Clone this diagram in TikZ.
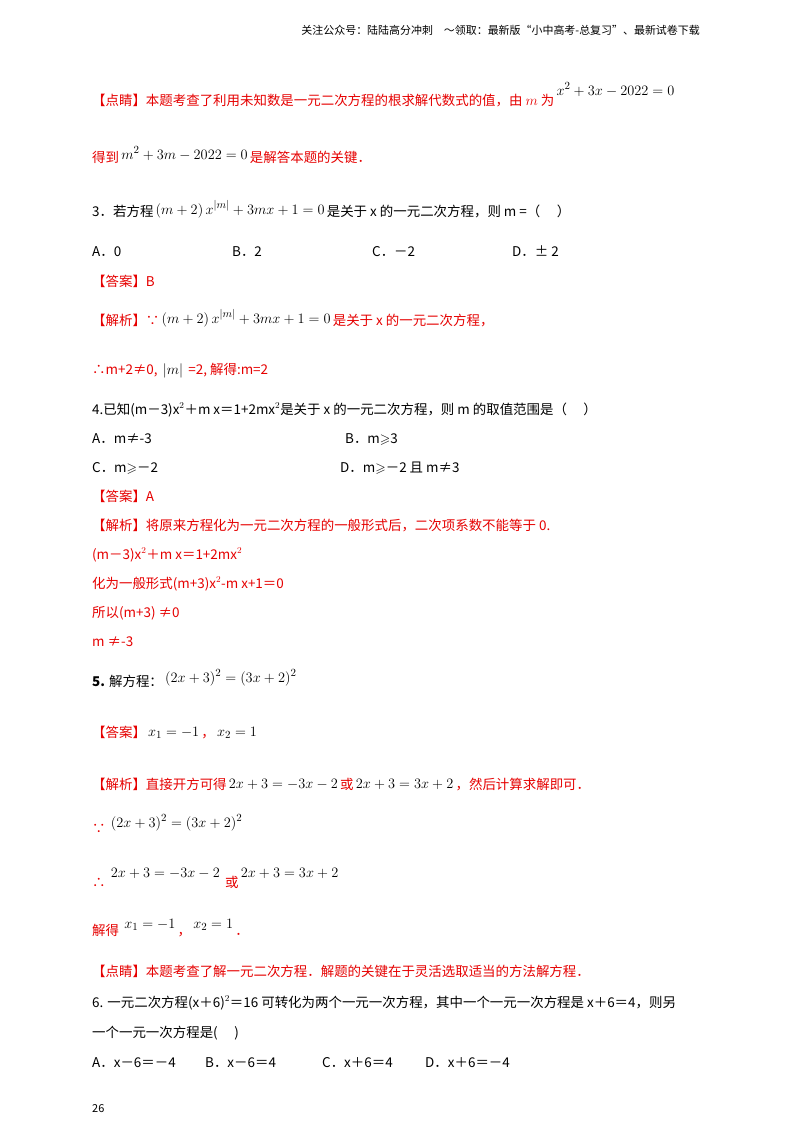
\documentclass[tikz,border=0pt]{standalone}
\usepackage{amsmath,amssymb}
\usepackage{fontspec}
\setmainfont{Noto Sans CJK SC}
\definecolor{rd}{RGB}{230,0,0}
\newcommand{\bk}[2][0pt]{{\color{black}\,\raisebox{#1}{\fontsize{15}{17}\selectfont$#2$}\,}}
\begin{document}
\begin{tikzpicture}[x=1bp,y=-1bp,
  t/.style={anchor=base west,inner sep=0pt,font=\fontsize{13.5}{15}\selectfont},
  r/.style={t,text=rd}]
\useasboundingbox[fill=white] (0,0) rectangle (800,1132);
\node[t,anchor=base east,font=\fontsize{11}{12}\selectfont] (hd) at (700,34) {关注公众号：陆陆高分冲刺\quad ～领取：最新版“小中高考-总复习”、最新试卷下载};
\node[r] (l1) at (92,105) {【点睛】本题考查了利用未知数是一元二次方程的根求解代数式的值，由 $m$ 为\bk[10pt]{x^2+3x-2022=0}};
\node[r] (l2) at (92,162) {得到\bk[3pt]{m^2+3m-2022=0}是解答本题的关键．};
\node[t] (l3) at (92,216) {3．若方程\bk[2pt]{\left(m+2\right)x^{|m|}+3mx+1=0}是关于 x 的一元二次方程，则 m =（\quad\ ）};
\node[t] (a1) at (92,256) {A．0};
\node[t] (b1) at (232,256) {B．2};
\node[t] (c1) at (372,256) {C．－2};
\node[t] (d1) at (512,256) {D．± 2};
\node[r] (ans3) at (92,286) {【答案】B};
\node[r] (j3) at (92,325) {【解析】∵\bk[2pt]{\left(m+2\right)x^{|m|}+3mx+1=0}是关于 x 的一元二次方程，};
\node[r] (j3c) at (92,374) {∴m+2≠0, \bk[0pt]{\lvert m\rvert}\ =2, 解得:m=2};
\node[t] (q4) at (92,414) {4.已知(m－3)x$^2$＋m x＝1+2mx$^2$是关于 x 的一元二次方程，则 m 的取值范围是（\quad\ ）};
\node[t] (a4) at (92,443) {A．m≠-3};
\node[t] (b4) at (345,443) {B．m$\geqslant$3};
\node[t] (c4) at (92,472) {C．m$\geqslant$－2};
\node[t] (d4) at (340,472) {D．m$\geqslant$－2 且 m≠3};
\node[r] (ans4) at (92,501) {【答案】A};
\node[r] (j4a) at (92,530) {【解析】将原来方程化为一元二次方程的一般形式后，二次项系数不能等于 0.};
\node[r] (j4b) at (92,559) {(m－3)x$^2$＋m x＝1+2mx$^2$};
\node[r] (j4c) at (92,588) {化为一般形式(m+3)x$^2$-m x+1＝0};
\node[r] (j4d) at (92,617) {所以(m+3) ≠0};
\node[r] (j4e) at (92,646) {m ≠-3};
\node[t] (q5) at (92,686) {\textbf{5.} 解方程：\bk[4pt]{(2x+3)^2=(3x+2)^2}};
\node[r] (ans5) at (92,737) {【答案】\bk[1pt]{x_1=-1}，\bk[1pt]{x_2=1}};
\node[r] (j5) at (92,789) {【解析】直接开方可得\bk[1pt]{2x+3=-3x-2}或\bk[1pt]{2x+3=3x+2}，然后计算求解即可．};
\node[r] (bc) at (92,833) {∵ \bk[6pt]{(2x+3)^2=(3x+2)^2}};
\node[r] (th) at (92,887) {∴\ \bk[10pt]{2x+3=-3x-2}\ 或\bk[10pt]{2x+3=3x+2}};
\node[r] (sol) at (92,935) {解得\ \bk[7pt]{x_1=-1}，\bk[7pt]{x_2=1}．};
\node[r] (dj5) at (92,976) {【点睛】本题考查了解一元二次方程．解题的关键在于灵活选取适当的方法解方程．};
\node[t] (q6a) at (92,1007) {6. 一元二次方程(x＋6)$^2$＝16 可转化为两个一元一次方程，其中一个一元一次方程是 x＋6＝4，则另};
\node[t] (q6b) at (92,1037) {一个一元一次方程是(\quad\ )};
\node[t] (a6) at (92,1067) {A．x－6＝－4};
\node[t] (b6) at (205,1067) {B．x－6＝4};
\node[t] (c6) at (322,1067) {C．x＋6＝4};
\node[t] (d6) at (425,1067) {D．x＋6＝－4};
\node[t,font=\fontsize{11}{12}\selectfont] (pg) at (92,1112) {26};
\end{tikzpicture}
\end{document}
